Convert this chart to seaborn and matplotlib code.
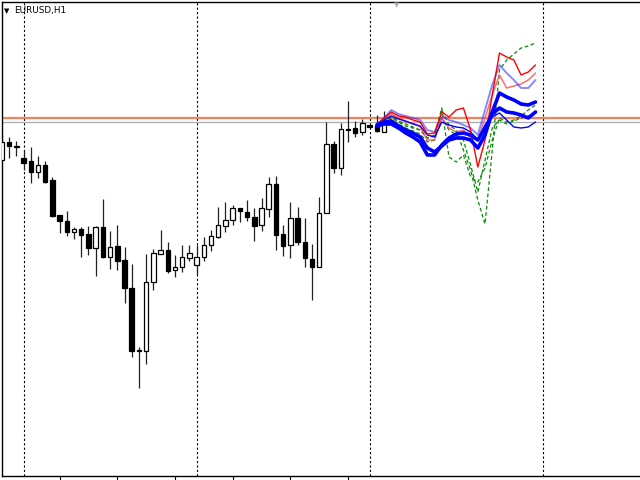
import matplotlib
matplotlib.use("Agg")
import matplotlib.pyplot as plt
import seaborn as sns
import pandas as pd
import numpy as np

# ---- candle data (bar index, EURUSD H1) ----
bar_index = list(range(-3, 51))
open_ = [1.1662, 1.1680, 1.1676, 1.1664, 1.1661, 1.1650, 1.1657, 1.1642, 1.1607, 1.1601,
         1.1590, 1.1593, 1.1588, 1.1574, 1.1595, 1.1565, 1.1576, 1.1562, 1.1534, 1.1472,
         1.1471, 1.1540, 1.1568, 1.1572, 1.1552, 1.1555, 1.1564, 1.1557, 1.1565, 1.1577,
         1.1585, 1.1596, 1.1602, 1.1614, 1.1610, 1.1605, 1.1597, 1.1613, 1.1638, 1.1588,
         1.1577, 1.1604, 1.1580, 1.1563, 1.1555, 1.1609, 1.1678, 1.1654, 1.1693, 1.1694,
         1.1690, 1.1697, 1.1696, 1.1690]
high = [1.1687, 1.1685, 1.1681, 1.1672, 1.1675, 1.1666, 1.1661, 1.1645, 1.1607, 1.1611,
        1.1595, 1.1595, 1.1596, 1.1596, 1.1623, 1.1591, 1.1597, 1.1575, 1.1558, 1.1475,
        1.1568, 1.1573, 1.1592, 1.1580, 1.1567, 1.1577, 1.1577, 1.1577, 1.1585, 1.1592,
        1.1615, 1.1620, 1.1617, 1.1614, 1.1622, 1.1614, 1.1624, 1.1645, 1.1646, 1.1597,
        1.1620, 1.1615, 1.1604, 1.1578, 1.1625, 1.1700, 1.1681, 1.1699, 1.1721, 1.1701,
        1.1703, 1.1698, 1.1707, 1.1711]
low = [1.1662, 1.1664, 1.1666, 1.1652, 1.1639, 1.1644, 1.1639, 1.1605, 1.1589, 1.1586,
       1.1583, 1.1565, 1.1567, 1.1546, 1.1564, 1.1553, 1.1552, 1.1519, 1.1465, 1.1434,
       1.1458, 1.1532, 1.1568, 1.1549, 1.1545, 1.1550, 1.1561, 1.1547, 1.1561, 1.1571,
       1.1584, 1.1590, 1.1597, 1.1600, 1.1601, 1.1581, 1.1591, 1.1605, 1.1572, 1.1566,
       1.1564, 1.1577, 1.1555, 1.1522, 1.1555, 1.1609, 1.1649, 1.1647, 1.1680, 1.1685,
       1.1687, 1.1694, 1.1690, 1.1690]
close = [1.1680, 1.1676, 1.1675, 1.1659, 1.1650, 1.1657, 1.1640, 1.1606, 1.1601, 1.1590,
         1.1593, 1.1587, 1.1574, 1.1595, 1.1565, 1.1575, 1.1561, 1.1534, 1.1471, 1.1471,
         1.1540, 1.1569, 1.1572, 1.1551, 1.1555, 1.1565, 1.1569, 1.1565, 1.1577, 1.1586,
         1.1597, 1.1602, 1.1614, 1.1611, 1.1605, 1.1596, 1.1614, 1.1638, 1.1587, 1.1576,
         1.1604, 1.1580, 1.1564, 1.1555, 1.1609, 1.1678, 1.1654, 1.1693, 1.1692, 1.1689,
         1.1699, 1.1695, 1.1691, 1.1700]

bid_price = 1.1700
ask_price = 1.1704

# ---- forecast projections ----
fc_index = list(range(49, 72))
red_main = [1.1697, 1.1704, 1.1710, 1.1706, 1.1705, 1.1702, 1.1700, 1.1688, 1.1689, 1.1710,
            1.1705, 1.1712, 1.1714, 1.1692, 1.1655, 1.1682, 1.1727, 1.1769, 1.1765, 1.1762,
            1.1747, 1.1750, 1.1757]
red_alt = [1.1698, 1.1703, 1.1708, 1.1704, 1.1700, 1.1699, 1.1695, 1.1682, 1.1682, 1.1704,
           1.1694, 1.1690, 1.1692, 1.1684, 1.1682, 1.1704, 1.1727, 1.1747, 1.1734, 1.1736,
           1.1738, 1.1742, 1.1749]
blue_light = [1.1698, 1.1704, 1.1712, 1.1708, 1.1706, 1.1704, 1.1702, 1.1692, 1.1690, 1.1706,
              1.1702, 1.1700, 1.1697, 1.1694, 1.1687, 1.1712, 1.1737, 1.1757, 1.1749, 1.1742,
              1.1734, 1.1734, 1.1742]
blue_thin = [1.1697, 1.1702, 1.1706, 1.1703, 1.1701, 1.1698, 1.1696, 1.1687, 1.1685, 1.1700,
             1.1697, 1.1695, 1.1694, 1.1690, 1.1682, 1.1697, 1.1705, 1.1709, 1.1702, 1.1695,
             1.1694, 1.1695, 1.1700]
blue_thick_1 = [1.1697, 1.1700, 1.1701, 1.1696, 1.1692, 1.1689, 1.1685, 1.1674, 1.1670, 1.1676,
                1.1682, 1.1684, 1.1684, 1.1682, 1.1674, 1.1687, 1.1710, 1.1729, 1.1725, 1.1722,
                1.1718, 1.1717, 1.1720]
blue_thick_2 = [1.1696, 1.1698, 1.1698, 1.1694, 1.1689, 1.1685, 1.1680, 1.1667, 1.1667, 1.1677,
                1.1684, 1.1688, 1.1689, 1.1687, 1.1682, 1.1694, 1.1708, 1.1714, 1.1710, 1.1709,
                1.1707, 1.1704, 1.1710]
green_1 = [1.1698, 1.1702, 1.1705, 1.1701, 1.1698, 1.1695, 1.1692, 1.1684, 1.1686, 1.1712,
           1.1697, 1.1692, 1.1672, 1.1652, 1.1622, 1.1598, 1.1672, 1.1752, 1.1762, 1.1768,
           1.1774, 1.1776, 1.1779]
green_2 = [1.1697, 1.1701, 1.1704, 1.1700, 1.1696, 1.1694, 1.1692, 1.1684, 1.1687, 1.1714,
           1.1665, 1.1660, 1.1667, 1.1645, 1.1640, 1.1654, 1.1682, 1.1704, 1.1700, 1.1702,
           1.1706, 1.1712, 1.1717]
green_3 = [1.1696, 1.1700, 1.1702, 1.1698, 1.1694, 1.1691, 1.1688, 1.1680, 1.1682, 1.1704,
           1.1692, 1.1687, 1.1682, 1.1657, 1.1630, 1.1662, 1.1694, 1.1702, 1.1698, 1.1701,
           1.1704, 1.1706, 1.1709]

day_separators = [0, 24, 48, 72]
time_ticks = [5, 13, 21, 29, 37, 45]
symbol_label = "EURUSD,H1"

sns.set_style("white")
plt.rcParams['font.family'] = ['DejaVu Sans']

fig = plt.figure(figsize=(6.4, 4.8), dpi=100)
ax = fig.add_axes([1.5 / 640, 4 / 480, 1.0, 474 / 480])
ax.set_facecolor("white")

# day separators
for d in day_separators:
    ax.axvline(d, color="black", lw=0.8, ls=(0, (2, 2)), zorder=1)

# bid / ask lines
ax.axhline(ask_price, color="#f4805c", lw=1.6, zorder=1.5)
ax.axhline(bid_price, color="#b0b0b0", lw=1.0, zorder=1.5)

# candles
df = pd.DataFrame({"i": bar_index, "o": open_, "h": high, "l": low, "c": close})
ax.vlines(df["i"], df["l"], df["h"], color="#222222", lw=0.9, zorder=2)
bull = df[df["c"] >= df["o"]]
bear = df[df["c"] < df["o"]]
ax.bar(bull["i"], (bull["c"] - bull["o"]).clip(lower=0.00003), bottom=bull["o"], width=0.62,
       color="white", edgecolor="black", lw=0.9, zorder=3)
ax.bar(bear["i"], bear["c"] - bear["o"], bottom=bear["o"], width=0.62,
       color="black", edgecolor="black", lw=0.9, zorder=3)

# forecast lines
styles = [
    ("green_1", green_1, "#0a8a0a", 0.9, (0, (3, 2)), 1.0),
    ("green_2", green_2, "#0a8a0a", 0.9, (0, (3, 2)), 1.0),
    ("green_3", green_3, "#0a8a0a", 0.9, (0, (3, 2)), 1.0),
    ("red_alt", red_alt, "#ff4a4a", 1.1, "-", 0.8),
    ("blue_light", blue_light, "#3a3aff", 1.4, "-", 0.6),
    ("blue_thin", blue_thin, "#0000ff", 1.0, "-", 1.0),
    ("red_main", red_main, "#ff0000", 1.0, "-", 1.0),
    ("blue_thick_1", blue_thick_1, "#0000ff", 2.6, "-", 1.0),
    ("blue_thick_2", blue_thick_2, "#0000ff", 2.6, "-", 1.0),
]
for k, (name, vals, col, lw, ls, a) in enumerate(styles):
    fdf = pd.DataFrame({"i": fc_index, "v": vals})
    sns.lineplot(data=fdf, x="i", y="v", ax=ax, color=col, lw=lw, alpha=a,
                 zorder=4 + k * 0.1, legend=False)
    ax.lines[-1].set_linestyle(ls)

ax.set_xlim(-3.06, 85.7)
ax.set_ylim(1.1346, 1.1820)
ax.set_xlabel("")
ax.set_ylabel("")
ax.set_yticks([])
ax.set_xticks(time_ticks)
ax.set_xticklabels([])
ax.tick_params(axis="x", direction="out", length=3.5, width=0.8, color="black", bottom=True)
for s in ["left", "top", "bottom"]:
    ax.spines[s].set_visible(True)
    ax.spines[s].set_color("black")
    ax.spines[s].set_linewidth(1.0)
ax.spines["right"].set_visible(False)

fig.text(4 / 640, 1 - 11 / 480, "▼", fontsize=5, color="black", va="center", ha="left")
fig.text(14 / 640, 1 - 11 / 480, symbol_label, fontsize=6.4, color="black", va="center", ha="left")
fig.text(397 / 640, 1 - 5 / 480, "▼", fontsize=5, color="#b0b0b0", va="center", ha="center")

fig.savefig("out.png", dpi=100, facecolor="white")
